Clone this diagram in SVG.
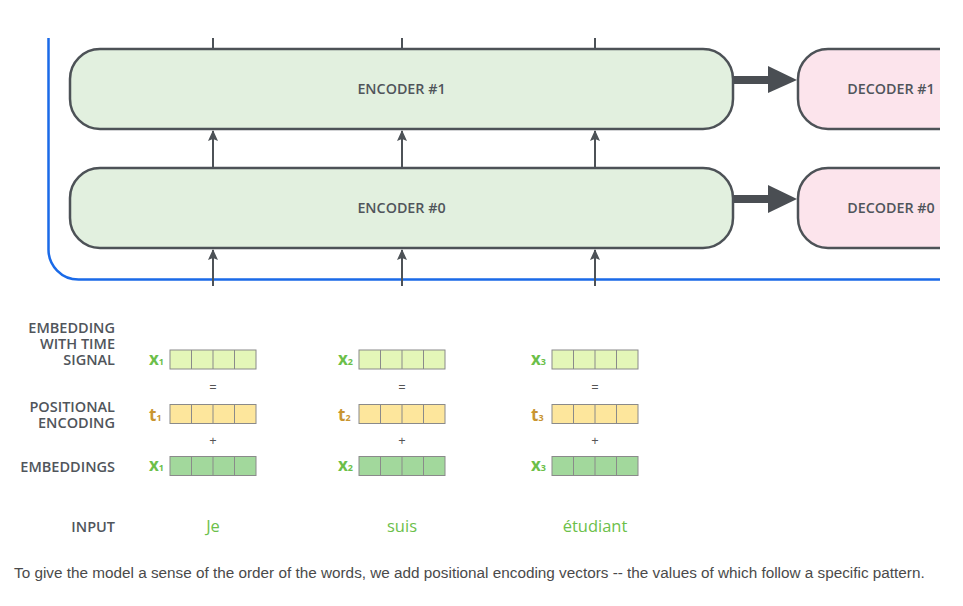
<svg xmlns="http://www.w3.org/2000/svg" width="963" height="606" viewBox="0 0 963 606">
<defs>
<style>
.enc{fill:#e2f0df;stroke:#4d5257;stroke-width:2.5}
.dec{fill:#fce4ec;stroke:#4d5257;stroke-width:2.5}
.bt{font-family:"Open Sans","Liberation Sans",sans-serif;font-weight:600;font-size:14.3px;fill:#50555b;text-anchor:middle}
.lbl{font-family:"Open Sans","Liberation Sans",sans-serif;font-weight:600;font-size:14.5px;fill:#50555b;text-anchor:end}
.vx{font-family:"Open Sans","Liberation Sans",sans-serif;font-weight:700;font-size:17px;fill:#6cbf4a}
.vt{font-family:"Open Sans","Liberation Sans",sans-serif;font-weight:700;font-size:17px;fill:#c99530}
.sub{font-size:9px}
.op{font-family:"Open Sans","Liberation Sans",sans-serif;font-size:13px;fill:#555;text-anchor:middle}
.word{font-family:"Open Sans","Liberation Sans",sans-serif;font-size:16.5px;fill:#6cc04a;text-anchor:middle}
.cap{font-family:"Liberation Sans",Arial,sans-serif;font-size:15.3px;fill:#4a4a4a}
.cl{stroke:#4d5257;stroke-width:2;fill:none}
.big{stroke:#4a4e53;stroke-width:8;fill:none}
.cell{stroke:#8a8a8a;stroke-width:1}
.ws{fill:#e4f6b8}
.pe{fill:#fde69c}
.em{fill:#a2d89c}
</style>
<marker id="ah" markerUnits="userSpaceOnUse" markerWidth="10" markerHeight="12" refX="5" refY="1" orient="0" viewBox="0 0 10 12">
<path d="M5,0 L10,11 L5,9 L0,11 Z" fill="#4d5257"/>
</marker>
<clipPath id="crop"><rect x="0" y="0" width="940" height="606"/></clipPath>
</defs>
<rect width="963" height="606" fill="#ffffff"/>

<g clip-path="url(#crop)">
<path id="stack-border" d="M48.5,38 V249 A30,30 0 0 0 78.5,279.5 H945" fill="none" stroke="#1a6ae8" stroke-width="2.5"/>

<g id="connectors">
<line class="cl" x1="213" y1="38" x2="213" y2="49"/>
<line class="cl" x1="402" y1="38" x2="402" y2="49"/>
<line class="cl" x1="595" y1="38" x2="595" y2="49"/>
<line class="cl" x1="213" y1="168" x2="213" y2="131" marker-end="url(#ah)"/>
<line class="cl" x1="402" y1="168" x2="402" y2="131" marker-end="url(#ah)"/>
<line class="cl" x1="595" y1="168" x2="595" y2="131" marker-end="url(#ah)"/>
<line class="cl" x1="213" y1="286" x2="213" y2="250" marker-end="url(#ah)"/>
<line class="cl" x1="402" y1="286" x2="402" y2="250" marker-end="url(#ah)"/>
<line class="cl" x1="595" y1="286" x2="595" y2="250" marker-end="url(#ah)"/>
<line class="big" x1="733" y1="80" x2="770" y2="80"/>
<polygon points="768,66 797,80 768,93" fill="#4a4e53"/>
<line class="big" x1="733" y1="199" x2="770" y2="199"/>
<polygon points="768,185 797,199 768,213" fill="#4a4e53"/>
</g>

<g id="encoder1">
<rect class="enc" x="70" y="49" width="663" height="80" rx="30"/>
<text class="bt" x="401.5" y="94">ENCODER #1</text>
</g>
<g id="encoder0">
<rect class="enc" x="70" y="168" width="663" height="80" rx="30"/>
<text class="bt" x="401.5" y="213">ENCODER #0</text>
</g>
<g id="decoder1">
<rect class="dec" x="798" y="49" width="200" height="80" rx="30"/>
<text class="bt" x="891" y="94">DECODER #1</text>
</g>
<g id="decoder0">
<rect class="dec" x="798" y="168" width="200" height="80" rx="30"/>
<text class="bt" x="891" y="213">DECODER #0</text>
</g>
</g>

<g id="row-labels">
<text class="lbl" x="115" y="333">EMBEDDING<tspan x="115" dy="16">WITH TIME</tspan><tspan x="115" dy="16">SIGNAL</tspan></text>
<text class="lbl" x="115" y="412">POSITIONAL<tspan x="115" dy="16">ENCODING</tspan></text>
<text class="lbl" x="115" y="472">EMBEDDINGS</text>
<text class="lbl" x="115" y="532">INPUT</text>
</g>

<g id="col1">
<text class="vx" x="149" y="365">x<tspan class="sub">1</tspan></text>
<rect class="ws cell" x="170" y="350" width="86" height="19"/>
<path class="cell" d="M191.5,350V369M213,350V369M234.5,350V369"/>
<text class="op" x="213" y="392">=</text>
<text class="vt" x="149" y="421">t<tspan class="sub">1</tspan></text>
<rect class="pe cell" x="170" y="404.5" width="86" height="19"/>
<path class="cell" d="M191.5,404.5V423.5M213,404.5V423.5M234.5,404.5V423.5"/>
<text class="op" x="213" y="445">+</text>
<text class="vx" x="149" y="471">x<tspan class="sub">1</tspan></text>
<rect class="em cell" x="170" y="456.5" width="86" height="19"/>
<path class="cell" d="M191.5,456.5V475.5M213,456.5V475.5M234.5,456.5V475.5"/>
<text class="word" x="213" y="532">Je</text>
</g>

<g id="col2">
<text class="vx" x="338" y="365">x<tspan class="sub">2</tspan></text>
<rect class="ws cell" x="359" y="350" width="86" height="19"/>
<path class="cell" d="M380.5,350V369M402,350V369M423.5,350V369"/>
<text class="op" x="402" y="392">=</text>
<text class="vt" x="338" y="421">t<tspan class="sub">2</tspan></text>
<rect class="pe cell" x="359" y="404.5" width="86" height="19"/>
<path class="cell" d="M380.5,404.5V423.5M402,404.5V423.5M423.5,404.5V423.5"/>
<text class="op" x="402" y="445">+</text>
<text class="vx" x="338" y="471">x<tspan class="sub">2</tspan></text>
<rect class="em cell" x="359" y="456.5" width="86" height="19"/>
<path class="cell" d="M380.5,456.5V475.5M402,456.5V475.5M423.5,456.5V475.5"/>
<text class="word" x="402" y="532">suis</text>
</g>

<g id="col3">
<text class="vx" x="531" y="365">x<tspan class="sub">3</tspan></text>
<rect class="ws cell" x="552" y="350" width="86" height="19"/>
<path class="cell" d="M573.5,350V369M595,350V369M616.5,350V369"/>
<text class="op" x="595" y="392">=</text>
<text class="vt" x="531" y="421">t<tspan class="sub">3</tspan></text>
<rect class="pe cell" x="552" y="404.5" width="86" height="19"/>
<path class="cell" d="M573.5,404.5V423.5M595,404.5V423.5M616.5,404.5V423.5"/>
<text class="op" x="595" y="445">+</text>
<text class="vx" x="531" y="471">x<tspan class="sub">3</tspan></text>
<rect class="em cell" x="552" y="456.5" width="86" height="19"/>
<path class="cell" d="M573.5,456.5V475.5M595,456.5V475.5M616.5,456.5V475.5"/>
<text class="word" x="595" y="532">étudiant</text>
</g>

<text class="cap" x="14" y="578">To give the model a sense of the order of the words, we add positional encoding vectors -- the values of which follow a specific pattern.</text>
</svg>
